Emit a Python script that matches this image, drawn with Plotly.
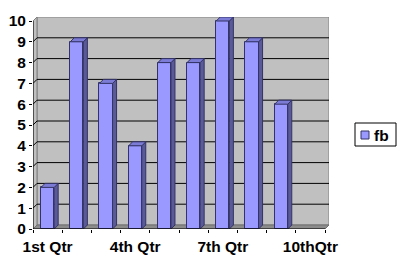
import plotly.graph_objects as go

# ---- data ----
categories = ["1st Qtr", "2nd Qtr", "3rd Qtr", "4th Qtr", "5th Qtr",
              "6th Qtr", "7th Qtr", "8th Qtr", "9th Qtr", "10thQtr"]
values = [2, 9, 7, 4, 8, 8, 10, 9, 6, None]
series_name = "fb"
y_ticks = [0, 1, 2, 3, 4, 5, 6, 7, 8, 9, 10]
x_label_idx = [0, 3, 6, 9]

# ---- style ----
W, H = 405, 261
ML, MR, MT, MB = 33, 76, 17, 32
FONT = "Liberation Sans, Arial, sans-serif"
FS = 15.5
BAR_W = 0.45
DX = 4 / 29.2   # depth offset in category units
DY = 4 / 20.8   # depth offset in value units
FRONT = "#9999FF"
SIDE = "#5A5A99"
TOP = "#7C7CD6"
EDGE = "#333366"
WALL = "#C0C0C0"
FLOOR = "#8C8C8C"

idx = list(range(len(categories)))
n = len(categories)
x0, x1 = -0.5, n - 0.5
ymax = max(y_ticks)

fig = go.Figure()

# front faces
fig.add_trace(go.Bar(x=idx, y=values, width=BAR_W, showlegend=False,
                     marker=dict(color=FRONT, line=dict(color=EDGE, width=1))))

# side and top faces from the same values
sx, sy, tx, ty = [], [], [], []
for i, v in zip(idx, values):
    if v is None:
        continue
    xl, xr = i - BAR_W / 2, i + BAR_W / 2
    sx += [xr, xr, xr + DX, xr + DX, xr, None]
    sy += [0, v, v + DY, DY, 0, None]
    tx += [xl, xr, xr + DX, xl + DX, xl, None]
    ty += [v, v, v + DY, v + DY, v, None]
fig.add_trace(go.Scatter(x=sx, y=sy, mode="lines", fill="toself", fillcolor=SIDE,
                         line=dict(color=EDGE, width=1), showlegend=False, hoverinfo="skip"))
fig.add_trace(go.Scatter(x=tx, y=ty, mode="lines", fill="toself", fillcolor=TOP,
                         line=dict(color=EDGE, width=1), showlegend=False, hoverinfo="skip"))

shapes = []
# back wall
shapes.append(dict(type="rect", xref="x", yref="y", x0=x0 + DX, x1=x1 + DX, y0=DY, y1=ymax + DY,
                   fillcolor=WALL, line=dict(color="#808080", width=1), layer="below"))
# side wall
shapes.append(dict(type="path", xref="x", yref="y",
                   path=f"M{x0},0 L{x0+DX},{DY} L{x0+DX},{ymax+DY} L{x0},{ymax} Z",
                   fillcolor=WALL, line=dict(color="#808080", width=1), layer="below"))
# floor
shapes.append(dict(type="path", xref="x", yref="y",
                   path=f"M{x0},0 L{x1},0 L{x1+DX},{DY} L{x0+DX},{DY} Z",
                   fillcolor=FLOOR, line=dict(color="#707070", width=1), layer="below"))
# gridlines
for t in y_ticks[1:-1]:
    shapes.append(dict(type="line", xref="x", yref="y", x0=x0 + DX, x1=x1 + DX, y0=t + DY, y1=t + DY,
                       line=dict(color="black", width=1), layer="below"))
    shapes.append(dict(type="line", xref="x", yref="y", x0=x0, x1=x0 + DX, y0=t, y1=t + DY,
                       line=dict(color="black", width=1), layer="below"))
# axis lines
shapes.append(dict(type="line", xref="x", yref="y", x0=x0, x1=x0, y0=0, y1=ymax,
                   line=dict(color="black", width=1)))
shapes.append(dict(type="line", xref="x", yref="y", x0=x0, x1=x1, y0=0, y1=0,
                   line=dict(color="black", width=1)))

# manual legend (pixel positions converted to paper coords)
pw, ph = W - ML - MR, H - MT - MB
def px(xp):
    return (xp - ML) / pw
def py(yp):
    return 1 - (yp - MT) / ph
shapes.append(dict(type="rect", xref="paper", yref="paper", x0=px(355), x1=px(396), y0=py(146), y1=py(123),
                   fillcolor="white", line=dict(color="black", width=1)))
shapes.append(dict(type="rect", xref="paper", yref="paper", x0=px(361), x1=px(369), y0=py(139), y1=py(131),
                   fillcolor=FRONT, line=dict(color=EDGE, width=1)))

fig.update_layout(
    width=W, height=H, margin=dict(l=ML, r=MR, t=MT, b=MB, autoexpand=False),
    paper_bgcolor="white", plot_bgcolor="white",
    font=dict(family=FONT, size=FS, color="black", weight="bold"),
    shapes=shapes, showlegend=False, bargap=0,
    annotations=[dict(xref="paper", yref="paper", x=px(372), y=py(135), xanchor="left", yanchor="middle",
                      text=series_name, showarrow=False,
                      font=dict(family=FONT, size=FS, color="black", weight="bold"))],
    xaxis=dict(range=[x0, x1 + DX], tickmode="array", tickvals=[idx[i] for i in x_label_idx],
               ticktext=[categories[i] for i in x_label_idx], ticks="", showgrid=False,
               ticklabelstandoff=6, automargin=False,
               zeroline=False, showline=False, fixedrange=True,
               minor=dict(ticks="outside", ticklen=3, tickcolor="black", tickwidth=1,
                          tickmode="linear", tick0=-0.5, dtick=1, showgrid=False)),
    yaxis=dict(range=[0, ymax + DY], tickmode="array", tickvals=y_ticks, automargin=False,
               ticktext=[str(t) for t in y_ticks], ticks="outside", ticklen=3,
               tickcolor="black", showgrid=False, zeroline=False, showline=False, fixedrange=True),
)

fig.write_html("out.html")
